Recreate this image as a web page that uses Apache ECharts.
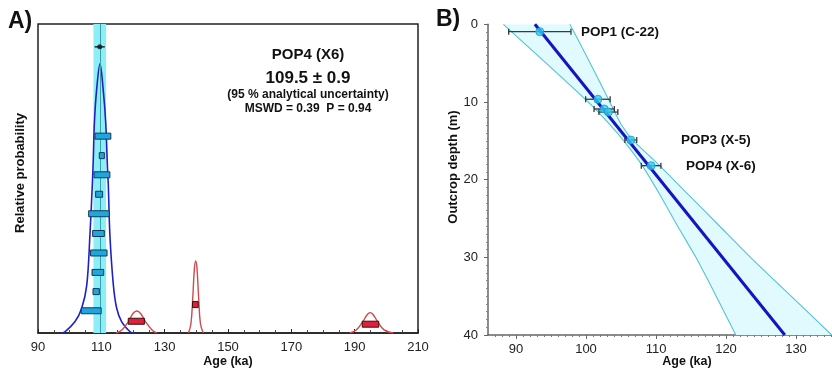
<!DOCTYPE html>
<html><head><meta charset="utf-8">
<script src="https://cdn.jsdelivr.net/npm/echarts@6/dist/echarts.min.js"></script>
<style>html,body{margin:0;padding:0;background:#fff}#c{width:832px;height:369px}</style>
</head><body><div id="c"></div>
<script>
// ---------- Panel A data ----------
const ageTicksA = [90, 110, 130, 150, 170, 190, 210];
// blue probability density (age ka, relative probability)
const pdfAgeBlue = [97.2, 98.5, 101.7, 103.8, 105.4, 106.4, 107.15, 107.45, 107.8, 108.5, 109.58, 110.6, 111.4, 111.95, 112.2, 112.7, 113.8, 114.85, 116.4, 119.05, 120.0];
const pdfProbBlue = [0, 0.4, 3.7, 8.0, 15.5, 31.7, 47.9, 56.0, 67.9, 78.6, 87.1, 78.6, 67.9, 53.0, 47.9, 31.7, 15.5, 8.0, 3.7, 0.4, 0];
// red probability densities (rejected)
const pdfAgeRed1 = [114.6, 116.5, 118.5, 120.0, 121.2, 122.4, 124.0, 126.0, 127.5];
const pdfProbRed1 = [0, 1.0, 3.6, 6.3, 7.1, 6.3, 3.6, 1.0, 0];
const pdfAgeRed2 = [137.5, 138.3, 138.9, 139.4, 139.8, 140.2, 140.7, 141.3, 142.2];
const pdfProbRed2 = [0, 3.0, 12.0, 21.0, 23.3, 21.0, 12.0, 3.0, 0];
const pdfAgeRed3 = [188.5, 190.5, 192.5, 194.0, 194.9, 195.8, 197.3, 199.3, 202.2];
const pdfProbRed3 = [0, 1.0, 3.6, 6.0, 6.6, 6.0, 3.6, 1.0, 0];
// individual accepted ages (blue boxes): age, half-error, plotting level
const blueAge = [110.5, 110.15, 110.2, 109.3, 109.25, 109.1, 109.2, 108.9, 108.37, 106.8];
const blueErr = [2.5, 0.8, 2.5, 1.1, 3.25, 1.85, 2.6, 1.85, 1.0, 3.15];
const blueLevel = [63.7, 57.4, 51.2, 44.9, 38.6, 32.2, 25.9, 19.6, 13.4, 7.2];
// rejected ages (red boxes)
const redAge = [121.05, 139.7, 195.0];
const redErr = [2.55, 0.9, 2.6];
const redLevel = [3.8, 9.2, 2.85];
// weighted mean
const meanAge = 109.5;
const meanErr = 1.6;
const meanLevel = 92.6;
const bandLo = 107.5, bandHi = 111.5;

// ---------- Panel B data ----------
const ageTicksB = [90, 100, 110, 120, 130];
const depthTicksB = [0, 10, 20, 30, 40];
const sampleAge = [93.4, 101.7, 102.6, 103.2, 106.4, 109.3];
const sampleErr = [4.45, 1.75, 1.45, 1.35, 0.85, 1.4];
const sampleDepth = [0.95, 9.65, 10.9, 11.3, 14.9, 18.2];
const fitAge = [92.7, 128.4];
const fitDepth = [0, 40];
const envDepth = [0, 5, 10, 13, 15, 18, 22, 26, 30, 35, 40];
const envLeft = [88.2, 94.3, 100.3, 103.5, 105.4, 107.9, 110.6, 113.1, 115.7, 118.6, 121.4];
const envRight = [97.7, 100.6, 103.4, 105.1, 106.8, 110.3, 114.7, 119.1, 123.5, 129.3, 135.1];

const FONT = 'Liberation Sans, Arial, sans-serif';
const zip = (a, b) => a.map((v, i) => [v, b[i]]);

function boxRender(fill, stroke) {
  return function (params, api) {
    const c = api.value(0), e = api.value(1), l = api.value(2);
    const p0 = api.coord([c - e, l]);
    const p1 = api.coord([c + e, l]);
    return { type: 'rect', shape: { x: p0[0], y: p0[1] - 3, width: p1[0] - p0[0], height: 6 },
      style: { fill: fill, stroke: stroke, lineWidth: 1 } };
  };
}
function errRender(color, cap) {
  return function (params, api) {
    const c = api.value(0), e = api.value(1), l = api.value(2);
    const p0 = api.coord([c - e, l]);
    const p1 = api.coord([c + e, l]);
    const st = { stroke: color, lineWidth: 1.3 };
    return { type: 'group', children: [
      { type: 'line', shape: { x1: p0[0], y1: p0[1], x2: p1[0], y2: p1[1] }, style: st },
      { type: 'line', shape: { x1: p0[0], y1: p0[1] - cap, x2: p0[0], y2: p0[1] + cap }, style: st },
      { type: 'line', shape: { x1: p1[0], y1: p1[1] - cap, x2: p1[0], y2: p1[1] + cap }, style: st }
    ] };
  };
}

const chart = echarts.init(document.getElementById('c'), null, { renderer: 'canvas' });
const integerTicks = [];
for (let v = 87; v <= 135; v++) integerTicks.push(v);

const option = {
  animation: false,
  textStyle: { fontFamily: FONT },
  grid: [
    { left: 38, top: 24, width: 380, height: 309, show: true, borderColor: '#222', borderWidth: 1.5, backgroundColor: 'transparent' },
    { left: 488, top: 24.3, width: 343, height: 310.7 }
  ],
  xAxis: [
    { gridIndex: 0, type: 'value', min: 90, max: 210, interval: 20,
      axisLine: { show: true, onZero: false, lineStyle: { color: '#222', width: 1.5 } },
      axisTick: { show: true, inside: true, length: 4, lineStyle: { color: '#222' } },
      minorTick: { show: true, splitNumber: 4, length: 3, lineStyle: { color: '#444' } },
      splitLine: { show: false },
      axisLabel: { color: '#222', fontSize: 13, margin: 8, fontFamily: FONT,
        customValues: ageTicksA } },
    { gridIndex: 1, type: 'value', min: 86, max: 135, position: 'bottom',
      axisLine: { show: true, onZero: false, lineStyle: { color: '#666', width: 1.5 } },
      axisTick: { show: true, length: 2, lineStyle: { color: '#777' }, customValues: integerTicks },
      splitLine: { show: false },
      axisLabel: { color: '#222', fontSize: 13, margin: 8, fontFamily: FONT, customValues: ageTicksB } },
    { gridIndex: 1, type: 'value', min: 86, max: 135, position: 'bottom',
      axisLine: { show: false, onZero: false },
      axisTick: { show: true, length: 4, lineStyle: { color: '#666' }, customValues: ageTicksB },
      splitLine: { show: false },
      axisLabel: { show: false } }
  ],
  yAxis: [
    { gridIndex: 0, type: 'value', min: 0, max: 100, show: false, splitLine: { show: false } },
    { gridIndex: 1, type: 'value', min: 0, max: 40, interval: 10, inverse: true,
      axisLine: { show: true, onZero: false, lineStyle: { color: '#666', width: 1.5 } },
      axisTick: { show: true, length: 4, lineStyle: { color: '#666' } },
      minorTick: { show: true, splitNumber: 10, length: 2, lineStyle: { color: '#888' } },
      splitLine: { show: false },
      axisLabel: { color: '#222', fontSize: 13, margin: 10, fontFamily: FONT } }
  ],
  series: [
    // ----- Panel A -----
    { type: 'line', xAxisIndex: 0, yAxisIndex: 0, data: zip(pdfAgeBlue, pdfProbBlue), smooth: 0.35,
      showSymbol: false, z: 3, lineStyle: { color: '#1c22c8', width: 1.6 },
      markArea: { silent: true, itemStyle: { color: '#8ceef6' }, z: 1,
        data: [[{ xAxis: bandLo }, { xAxis: bandHi }]] },
      markLine: { silent: true, symbol: 'none', label: { show: false },
        lineStyle: { color: '#3b9ea8', width: 1, type: 'solid' }, data: [{ xAxis: meanAge }] } },
    { type: 'line', xAxisIndex: 0, yAxisIndex: 0, data: zip(pdfAgeRed1, pdfProbRed1), smooth: 0.4,
      showSymbol: false, z: 3, lineStyle: { color: '#cf4a4a', width: 1.4 } },
    { type: 'line', xAxisIndex: 0, yAxisIndex: 0, data: zip(pdfAgeRed2, pdfProbRed2), smooth: 0.4,
      showSymbol: false, z: 3, lineStyle: { color: '#cf4a4a', width: 1.4 } },
    { type: 'line', xAxisIndex: 0, yAxisIndex: 0, data: zip(pdfAgeRed3, pdfProbRed3), smooth: 0.4,
      showSymbol: false, z: 3, lineStyle: { color: '#cf4a4a', width: 1.4 } },
    { type: 'custom', xAxisIndex: 0, yAxisIndex: 0, z: 5,
      data: blueAge.map((a, i) => [a, blueErr[i], blueLevel[i]]),
      renderItem: boxRender('#1fa6dc', '#163a56') },
    { type: 'custom', xAxisIndex: 0, yAxisIndex: 0, z: 5,
      data: redAge.map((a, i) => [a, redErr[i], redLevel[i]]),
      renderItem: boxRender('#e0213d', '#3a1010') },
    { type: 'custom', xAxisIndex: 0, yAxisIndex: 0, z: 5,
      data: [[meanAge, meanErr, meanLevel]], renderItem: errRender('#111', 0) },
    { type: 'scatter', xAxisIndex: 0, yAxisIndex: 0, z: 6, data: [[meanAge, meanLevel]],
      symbolSize: 5, itemStyle: { color: '#111' } },
    // ----- Panel B -----
    { type: 'custom', xAxisIndex: 1, yAxisIndex: 1, z: 1, clip: true, data: [[0]],
      renderItem: function (params, api) {
        const pts = [];
        envDepth.forEach((d, i) => pts.push(api.coord([envLeft[i], d])));
        for (let i = envDepth.length - 1; i >= 0; i--) pts.push(api.coord([envRight[i], envDepth[i]]));
        return { type: 'polygon', shape: { points: pts }, style: { fill: '#e0fafd' } };
      } },
    { type: 'line', xAxisIndex: 1, yAxisIndex: 1, z: 2, data: zip(envLeft, envDepth), smooth: 0.2,
      showSymbol: false, clip: true, lineStyle: { color: '#52c4d4', width: 1.1 } },
    { type: 'line', xAxisIndex: 1, yAxisIndex: 1, z: 2, data: zip(envRight, envDepth), smooth: 0.2,
      showSymbol: false, clip: true, lineStyle: { color: '#52c4d4', width: 1.1 } },
    { type: 'line', xAxisIndex: 1, yAxisIndex: 1, z: 3, data: zip(fitAge, fitDepth),
      showSymbol: false, lineStyle: { color: '#1414c0', width: 3 } },
    { type: 'custom', xAxisIndex: 1, yAxisIndex: 1, z: 4,
      data: sampleAge.map((a, i) => [a, sampleErr[i], sampleDepth[i]]),
      renderItem: errRender('#3a3a3a', 3) },
    { type: 'scatter', xAxisIndex: 1, yAxisIndex: 1, z: 5, data: zip(sampleAge, sampleDepth),
      symbolSize: 8, itemStyle: { color: '#2fcaf2', borderColor: '#1b96c8', borderWidth: 1 } }
  ],
  graphic: [
    { type: 'text', left: 8, top: 10, style: { text: 'A)', font: 'bold 23px ' + FONT, fill: '#111' } },
    { type: 'text', left: 436, top: 8, style: { text: 'B)', font: 'bold 23px ' + FONT, fill: '#111' } },
    { type: 'text', x: 308, y: 55, style: { text: 'POP4 (X6)', font: 'bold 15px ' + FONT, fill: '#111', align: 'center', verticalAlign: 'middle' } },
    { type: 'text', x: 308, y: 78, style: { text: '109.5 ± 0.9', font: 'bold 17px ' + FONT, fill: '#111', align: 'center', verticalAlign: 'middle' } },
    { type: 'text', x: 308, y: 95, style: { text: '(95 % analytical uncertainty)', font: 'bold 12px ' + FONT, fill: '#111', align: 'center', verticalAlign: 'middle' } },
    { type: 'text', x: 308, y: 109, style: { text: 'MSWD = 0.39  P = 0.94', font: 'bold 12px ' + FONT, fill: '#111', align: 'center', verticalAlign: 'middle' } },
    { type: 'text', x: 20, y: 173, rotation: Math.PI / 2, style: { text: 'Relative probability', font: 'bold 13px ' + FONT, fill: '#111', align: 'center', verticalAlign: 'middle' } },
    { type: 'text', x: 228, y: 362, style: { text: 'Age (ka)', font: 'bold 12.5px ' + FONT, fill: '#111', align: 'center', verticalAlign: 'middle' } },
    { type: 'text', x: 453, y: 167, rotation: Math.PI / 2, style: { text: 'Outcrop depth (m)', font: 'bold 13px ' + FONT, fill: '#111', align: 'center', verticalAlign: 'middle' } },
    { type: 'text', x: 687, y: 362, style: { text: 'Age (ka)', font: 'bold 12.5px ' + FONT, fill: '#111', align: 'center', verticalAlign: 'middle' } },
    { type: 'text', x: 581, y: 32, style: { text: 'POP1 (C-22)', font: 'bold 13.5px ' + FONT, fill: '#111', align: 'left', verticalAlign: 'middle' } },
    { type: 'text', x: 681, y: 140, style: { text: 'POP3 (X-5)', font: 'bold 13.5px ' + FONT, fill: '#111', align: 'left', verticalAlign: 'middle' } },
    { type: 'text', x: 686, y: 166, style: { text: 'POP4 (X-6)', font: 'bold 13.5px ' + FONT, fill: '#111', align: 'left', verticalAlign: 'middle' } }
  ]
};
chart.setOption(option);
</script>
</body></html>
